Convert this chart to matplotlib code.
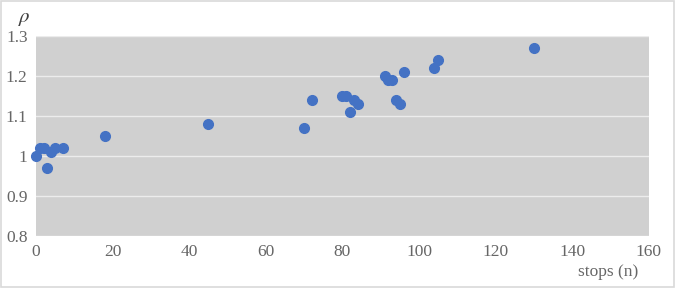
import matplotlib
matplotlib.use("Agg")
import matplotlib.pyplot as plt
from matplotlib.patches import Rectangle

stops = [0, 1, 2, 3, 4, 5, 7, 18, 45, 70, 72, 80, 81, 82, 83, 84, 91, 92, 93, 94, 95, 96, 104, 105, 130]
rho = [1.00, 1.02, 1.02, 0.97, 1.01, 1.02, 1.02, 1.05, 1.08, 1.07, 1.14, 1.15, 1.15, 1.11, 1.14, 1.13,
       1.20, 1.19, 1.19, 1.14, 1.13, 1.21, 1.22, 1.24, 1.27]
xticks = [0, 20, 40, 60, 80, 100, 120, 140, 160]
yticks = [0.8, 0.9, 1.0, 1.1, 1.2, 1.3]
yticklabels = ["0.8", "0.9", "1", "1.1", "1.2", "1.3"]

plt.rcParams['font.family'] = ['Liberation Serif', 'DejaVu Serif']
plt.rcParams['mathtext.fontset'] = 'stix'

fig = plt.figure(figsize=(6.75, 2.88), dpi=100)
fig.patches.append(Rectangle((0.002, 0.003), 0.996, 0.994, transform=fig.transFigure,
                             fill=False, edgecolor='#d9d9d9', linewidth=1.2))
ax = fig.add_axes([0.0533, 0.1806, 0.908, 0.694])
ax.set_facecolor('#d0d0d0')
ax.set_xlim(0, 160)
ax.set_ylim(0.8, 1.3)
ax.set_xticks(xticks)
ax.set_yticks(yticks)
ax.set_yticklabels(yticklabels)
ax.grid(axis='y', color='#ececec', linewidth=1.0)
ax.set_axisbelow(True)
for s in ax.spines.values():
    s.set_visible(False)
ax.tick_params(length=0, labelsize=12.5, colors='#666666', pad=6)
ax.plot(stops, rho, 'o', color='#4472C4', markersize=7, clip_on=False, zorder=3)
fig.text(24/675, 1 - 18/288, r'$\rho$', fontsize=15, color='#404040', ha='center', va='center')
fig.text(638/675, 1 - 272/288, 'stops (n)', fontsize=12.5, color='#666666', ha='right', va='center')
fig.savefig('out.png', dpi=100)
